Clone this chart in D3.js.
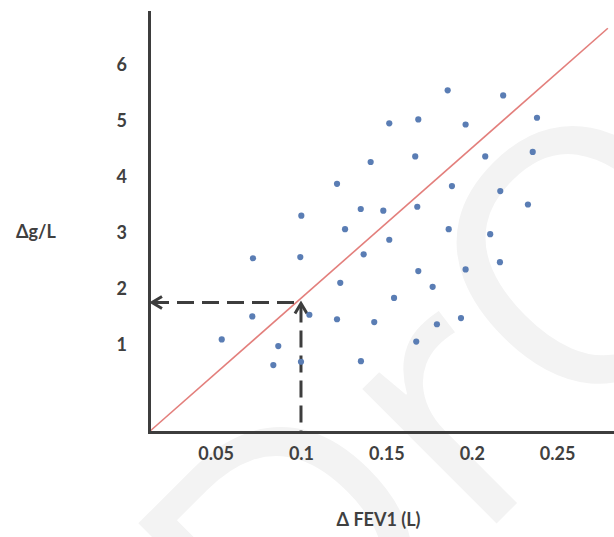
<!DOCTYPE html>
<html>
<head>
<meta charset="utf-8">
<script src="https://cdn.jsdelivr.net/npm/d3@7"></script>
<style>
    body { margin: 0; background: #fff; }
    #chart { width: 614px; height: 537px; }
    .tick text, .axis-label {
        font-family: Lato, "Open Sans", sans-serif;
        font-weight: 700;
        font-size: 18px;
        fill: #404040;
    }
    .watermark { font-family: "Open Sans", sans-serif; font-size: 355px; fill: #f3f3f3; }
</style>
</head>
<body>
<div id="chart"></div>
<script>
// change in FEV1 (L), one per dot
const fev1 = [0.1859, 0.2184, 0.1517, 0.1687, 0.1964, 0.2382, 0.1408, 0.1669, 0.2079, 0.2357,
              0.1211, 0.1884, 0.2167, 0.1002, 0.1350, 0.1482, 0.1681, 0.2329, 0.1258, 0.1865,
              0.2108, 0.1517, 0.0719, 0.0996, 0.1367, 0.2165, 0.1687, 0.1964, 0.1230, 0.1771,
              0.1545, 0.0715, 0.1049, 0.1211, 0.1429, 0.1796, 0.1937, 0.0536, 0.0867, 0.1675,
              0.0838, 0.1000, 0.1351];
// change in g/L, same order
const gPerL = [5.55, 5.46, 4.96, 5.03, 4.94, 5.06, 4.27, 4.37, 4.37, 4.45,
               3.88, 3.84, 3.75, 3.31, 3.43, 3.40, 3.47, 3.51, 3.07, 3.07,
               2.98, 2.88, 2.55, 2.57, 2.62, 2.48, 2.32, 2.35, 2.11, 2.04,
               1.84, 1.51, 1.54, 1.46, 1.41, 1.37, 1.48, 1.10, 0.98, 1.06,
               0.64, 0.70, 0.71];

const xTicks = [0.05, 0.1, 0.15, 0.2, 0.25];
const yTicks = [1, 2, 3, 4, 5, 6];
const xDomain = [0.011, 0.2833];
const yDomain = [-0.555, 6.95];

// reference line and the read-off point
const refLineX = [0.011, 0.2797];
const refLineY = [-0.555, 6.66];
const markX = 0.1;
const markY = 1.76;

const xAxisLabel = 'Δ FEV1 (L)';
const yAxisLabel = 'Δg/L';
const watermark = 'DrO';

let DrawScatter = function (id) {
    this.id = id
    this.svgWidth = 614
    this.svgHeight = 537

    this.svg = d3.select('#' + id).append('svg')
        .attr('width', this.svgWidth)
        .attr('height', this.svgHeight)

    this.margin = {top: 12, right: 0, bottom: 105, left: 149};
}

DrawScatter.prototype.draw = function () {
    const margin = this.margin;
    const innerWidth = this.svgWidth - margin.left - margin.right;
    const innerHeight = this.svgHeight - margin.top - margin.bottom;
    const ink = '#3d3d3d';

    // faint watermark behind everything
    this.svg.append('text')
        .attr('class', 'watermark')
        .attr('transform', 'translate(293,727) rotate(-45)')
        .text(watermark);

    const xScale = d3.scaleLinear()
        .domain(xDomain)
        .range([0, innerWidth]);

    const yScale = d3.scaleLinear()
        .domain(yDomain)
        .range([innerHeight, 0]);

    const g = this.svg.append('g')
        .attr('transform', `translate(${margin.left},${margin.top})`);

    // red reference line
    const lineGenerator = d3.line()
        .x(d => xScale(d[0]))
        .y(d => yScale(d[1]));

    g.append('path')
        .attr('d', lineGenerator(d3.zip(refLineX, refLineY)))
        .attr('fill', 'none')
        .attr('stroke', '#e37f7c')
        .attr('stroke-width', 1.6);

    // dashed read-off lines
    const mx = xScale(markX);
    const my = yScale(markY);
    const x0 = xScale(xDomain[0]);
    const y0 = yScale(yDomain[0]);

    g.append('path')
        .attr('d', `M${x0 + 3},${my}H${mx}`)
        .attr('fill', 'none')
        .attr('stroke', ink)
        .attr('stroke-width', 3)
        .attr('stroke-dasharray', '17,8');

    g.append('path')
        .attr('d', `M${mx},${my + 3}V${y0}`)
        .attr('fill', 'none')
        .attr('stroke', ink)
        .attr('stroke-width', 3)
        .attr('stroke-dasharray', '17,8');

    // arrow heads
    g.append('path')
        .attr('d', `M${x0 + 13},${my - 6}L${x0 + 3},${my}L${x0 + 13},${my + 6}`)
        .attr('fill', 'none')
        .attr('stroke', ink)
        .attr('stroke-width', 3);

    g.append('path')
        .attr('d', `M${mx - 6},${my + 11}L${mx},${my + 1}L${mx + 6},${my + 11}`)
        .attr('fill', 'none')
        .attr('stroke', ink)
        .attr('stroke-width', 3);

    // dots
    g.selectAll('.dot')
        .data(d3.zip(fev1, gPerL))
        .enter().append('circle')
        .attr('class', 'dot')
        .attr('cx', d => xScale(d[0]))
        .attr('cy', d => yScale(d[1]))
        .attr('r', 3.1)
        .attr('fill', '#5a7db4');

    // axes
    const xAxis = d3.axisBottom(xScale)
        .tickValues(xTicks)
        .tickFormat(d3.format('~g'))
        .tickSize(0)
        .tickPadding(15);

    const yAxis = d3.axisLeft(yScale)
        .tickValues(yTicks)
        .tickSize(0)
        .tickPadding(22);

    const xAxisG = g.append('g').call(xAxis)
        .attr('transform', `translate(0,${innerHeight})`);

    const yAxisG = g.append('g').call(yAxis);

    [xAxisG, yAxisG].forEach(a => {
        a.select('.domain')
            .attr('stroke', ink)
            .attr('stroke-width', 3)
            .attr('stroke-linecap', 'square');
        a.selectAll('.tick text').attr('font-family', null).attr('font-size', null);
    });

    g.append('text')
        .attr('class', 'axis-label')
        .attr('x', innerWidth / 2 - 3)
        .attr('y', 520 - margin.top)
        .attr('dy', '0.35em')
        .attr('text-anchor', 'middle')
        .text(xAxisLabel);

    g.append('text')
        .attr('class', 'axis-label')
        .attr('x', 16 - margin.left)
        .attr('y', 232 - margin.top)
        .attr('dy', '0.35em')
        .attr('text-anchor', 'start')
        .text(yAxisLabel);
}

const chart = new DrawScatter('chart');
chart.draw();
</script>
</body>
</html>
